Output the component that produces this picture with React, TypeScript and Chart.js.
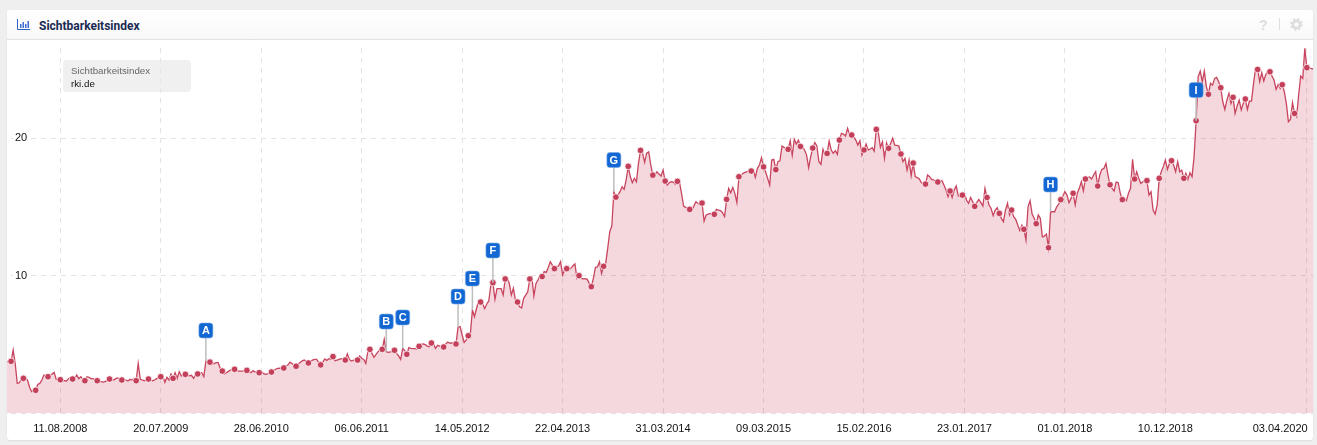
import React, { useEffect, useRef } from 'react'
import { Chart, registerables } from 'chart.js'

Chart.register(...registerables)

// weekly index values
const visibilityIndex = [
  3.73,3.78,3.76,4.58,3.6,2.16,2.2,2.45,2.52,2.55,
  2.4,1.87,1.55,1.62,1.65,2.08,2.15,2.4,2.76,2.7,
  2.64,2.78,2.83,2.95,2.45,2.4,2.42,2.33,2.35,2.33,
  2.5,2.6,2.47,2.5,2.76,2.5,2.64,2.45,2.35,2.64,
  2.6,2.5,2.5,2.4,2.35,2.3,2.28,2.25,2.3,2.35,
  2.47,2.45,2.4,2.5,2.55,2.45,2.4,2.45,2.4,2.33,
  2.45,2.4,2.52,2.35,3.6,2.45,2.4,2.35,2.4,2.47,
  2.4,2.35,2.4,2.5,2.6,2.64,2.7,2.23,2.6,2.4,
  2.84,2.52,2.93,2.52,3.0,2.7,2.76,2.81,2.76,2.7,
  2.74,2.52,2.76,2.84,2.93,2.93,2.64,3.76,3.73,3.7,
  3.56,3.6,3.66,3.66,3.25,3.05,2.84,2.93,3.03,3.13,
  3.18,3.18,3.08,3.05,3.05,3.05,3.08,3.1,3.05,2.93,
  3.08,2.98,3.03,2.93,3.03,2.88,2.81,2.84,2.93,2.98,
  3.08,3.18,3.25,3.27,3.25,3.27,3.42,3.49,3.7,3.6,
  3.47,3.4,3.56,3.68,3.8,3.85,3.76,3.64,3.76,3.85,
  3.9,3.9,3.7,3.5,3.7,3.93,3.83,3.95,3.9,4.1,
  3.8,3.85,3.9,3.95,3.9,3.85,4.29,3.9,3.78,3.85,
  3.85,3.85,4.15,3.98,3.9,3.61,4.46,4.63,4.34,4.05,
  4.27,4.46,4.58,4.63,5.36,4.46,4.41,4.44,4.48,4.56,
  4.34,4.15,3.9,4.7,4.53,4.27,4.75,4.7,4.68,4.68,
  4.65,4.85,5.0,5.02,4.97,4.87,4.82,5.09,5.02,4.7,
  4.92,4.87,4.82,4.8,5.02,5.16,5.07,5.11,5.02,5.02,
  6.23,6.28,5.67,5.14,5.31,5.62,5.75,7.49,7.0,7.6,
  8.15,8.07,7.93,7.59,7.93,8.15,9.31,9.48,8.27,9.04,
  9.04,9.04,8.58,9.75,9.79,9.43,8.58,9.07,8.22,8.07,
  7.73,7.64,8.34,8.58,8.82,9.75,9.87,8.51,9.43,9.67,
  10.04,9.92,10.28,10.23,10.59,11.0,10.76,10.5,10.64,10.69,
  11.0,10.04,10.4,10.5,10.4,10.52,10.69,10.84,9.79,9.99,
  9.79,9.75,9.77,9.72,9.43,9.19,9.79,10.59,10.64,11.0,
  10.16,10.67,10.88,11.98,13.2,13.6,16.1,15.7,15.85,16.1,
  16.45,16.27,16.95,17.94,17.2,16.75,17.07,16.82,18.16,19.1,
  18.9,18.23,18.9,19.0,18.04,17.3,17.3,17.55,17.38,17.24,
  17.67,16.87,16.58,16.75,16.82,16.8,16.63,16.85,16.8,15.98,
  15.05,14.96,14.88,14.81,14.76,15.05,15.37,15.25,15.13,15.27,
  13.96,14.4,14.47,14.52,14.4,14.45,14.81,14.76,14.72,14.57,
  14.28,15.54,16.34,16.02,16.41,15.98,15.3,17.19,17.3,17.43,
  17.5,17.55,17.6,17.6,17.67,17.14,17.8,18.04,18.57,17.9,
  17.55,17.07,16.58,18.4,18.45,17.7,18.28,18.35,19.42,19.32,
  19.25,19.18,19.8,18.76,19.9,19.56,19.85,19.39,19.37,19.13,
  18.76,17.84,18.64,19.27,19.68,19.42,18.28,18.08,19.18,18.76,
  18.88,19.78,19.13,18.88,19.08,18.81,19.85,20.34,20.29,20.15,
  20.7,20.22,20.22,20.1,19.85,19.49,19.8,18.76,19.13,19.56,
  19.13,19.2,19.3,19.05,20.63,20.39,19.32,19.73,18.52,19.64,
  19.25,19.61,19.98,19.49,19.47,19.42,18.84,18.28,18.52,17.67,
  18.4,17.26,18.18,17.19,17.12,17.02,16.75,16.68,16.65,17.31,
  17.19,16.99,16.95,16.82,16.8,16.85,16.9,16.58,16.22,15.73,
  16.15,15.68,16.22,16.51,15.78,15.73,15.85,15.98,15.49,15.25,
  15.68,15.37,15.03,15.3,15.54,15.3,15.05,16.34,15.68,15.13,
  14.88,14.35,14.76,14.93,14.52,14.16,13.92,14.76,15.25,14.4,
  14.76,14.28,14.08,13.67,13.26,13.67,13.36,12.58,15.0,15.44,
  14.47,14.16,13.77,14.4,14.16,12.82,12.87,13.02,12.02,14.64,
  14.64,14.64,15.0,15.2,15.52,15.78,16.1,15.85,15.3,15.61,
  15.98,15.13,15.98,16.34,16.82,16.15,17.02,17.12,17.16,17.02,
  17.31,17.55,16.51,17.31,17.72,17.79,18.16,17.31,16.6,16.34,
  16.15,16.8,16.75,15.98,15.52,15.61,15.44,15.98,16.34,18.45,
  17.02,17.55,17.07,16.7,16.82,16.9,16.9,15.85,16.1,14.76,
  14.47,15.13,17.07,17.55,17.92,18.4,17.72,18.16,18.35,18.04,
  17.55,18.28,17.55,17.67,17.07,17.43,16.99,17.48,17.19,18.64,
  21.26,24.46,24.87,24.1,24.87,23.73,23.18,23.98,23.85,24.34,
  24.41,24.1,23.66,22.64,22.08,22.76,23.25,22.52,22.96,21.79,
  22.33,22.76,22.04,22.52,22.84,22.08,22.69,22.69,23.98,25.07,
  24.99,24.1,24.75,24.15,24.63,24.82,24.82,24.51,24.22,23.54,
  23.9,23.61,23.88,23.37,22.52,21.19,21.36,22.57,21.79,21.55,
  23.13,24.51,24.34,26.52,25.12,25.07,25.07,25.02,
]

const yTicks = [0, 10, 20]
const tickWeeks = [26, 75, 124, 173, 222, 271, 320, 369, 418, 467, 516, 565, 621, 634]
const tickLabels = [
  '11.08.2008', '20.07.2009', '28.06.2010', '06.06.2011', '14.05.2012', '22.04.2013', '31.03.2014',
  '09.03.2015', '15.02.2016', '23.01.2017', '01.01.2018', '10.12.2018', '03.04.2020', '',
]
// the last date label is pushed left of its grid line, so it gets no line of its own
const labelOnlyWeek = 621

const flagLetters = ['A', 'B', 'C', 'D', 'E', 'F', 'G', 'H', 'I']
const flagWeeks = [97, 185, 193, 220, 227, 237, 296, 509, 580]
const flagLevels = [6.0, 6.65, 6.95, 8.47, 9.78, 11.82, 18.4, 16.62, 23.49]

const LINE = '#c8455f'
const GRID = '#e3e3e3'
const FONT = '"Liberation Sans", Arial, sans-serif'

// a dot every 6 weeks, the phase drifts a little along the axis
const hasDot = (i: number) => {
  if (i < 60) return i % 6 === 2
  if (i < 396) return i % 6 === 3
  return i % 6 === 4
}

const flagsPlugin = {
  id: 'flags',
  afterDatasetsDraw(chart: any) {
    const { ctx, scales } = chart
    flagLetters.forEach((letter, n) => {
      const week = flagWeeks[n]
      const x = scales.x.getPixelForValue(week)
      const yBox = scales.y.getPixelForValue(flagLevels[n])
      const yEnd = scales.y.getPixelForValue(visibilityIndex[week])
      ctx.save()
      ctx.strokeStyle = '#bdbdbd'
      ctx.lineWidth = 1.5
      ctx.beginPath()
      ctx.moveTo(x, yBox)
      ctx.lineTo(x, yEnd)
      ctx.stroke()
      ctx.beginPath()
      ctx.roundRect(x - 7, yBox - 7.5, 14, 15, 3)
      ctx.fillStyle = '#1367d3'
      ctx.fill()
      ctx.strokeStyle = 'rgba(120,170,230,0.6)'
      ctx.lineWidth = 1
      ctx.stroke()
      ctx.fillStyle = '#ffffff'
      ctx.font = `bold 11px ${FONT}`
      ctx.textAlign = 'center'
      ctx.textBaseline = 'middle'
      ctx.fillText(letter, x, yBox + 0.5)
      ctx.restore()
    })
  },
}

const App = () => {
  const chartRef = useRef<HTMLCanvasElement>(null)

  useEffect(() => {
    if (!chartRef.current) return
    const ctx = chartRef.current.getContext('2d')
    if (!ctx) return

    const chart = new Chart(ctx, {
      type: 'line',
      data: {
        labels: visibilityIndex.map((_, i) => i),
        datasets: [{
          label: 'rki.de',
          data: visibilityIndex.map((v, i) => ({ x: i, y: v })),
          borderColor: LINE,
          borderWidth: 1.3,
          backgroundColor: 'rgba(198,58,85,0.2)',
          fill: 'origin',
          tension: 0,
          pointRadius: (c: any) => (hasDot(c.dataIndex) ? 3.3 : 0),
          pointBackgroundColor: '#c43f5a',
          pointBorderColor: 'rgba(255,255,255,0.75)',
          pointBorderWidth: 1,
        }],
      },
      options: {
        animation: false,
        responsive: false,
        layout: { padding: { top: 8, left: 0, right: 0, bottom: 0 } },
        plugins: { legend: { display: false }, tooltip: { enabled: false } },
        scales: {
          x: {
            type: 'linear',
            min: 0,
            max: visibilityIndex.length - 1,
            afterBuildTicks: (axis: any) => {
              axis.ticks = tickWeeks.map((value) => ({ value }))
            },
            afterFit: (axis: any) => {
              axis.height = 27
              axis.paddingLeft = 0
              axis.paddingRight = 0
            },
            border: { display: false, dash: [5, 5] },
            grid: {
              drawTicks: false,
              color: (c: any) => (c.tick && c.tick.value === labelOnlyWeek ? 'rgba(0,0,0,0)' : GRID),
              lineWidth: 1,
            },
            ticks: {
              autoSkip: false,
              maxRotation: 0,
              color: '#111111',
              padding: 9,
              font: { family: FONT, size: 11 },
              callback: (v: any) => {
                const n = tickWeeks.indexOf(v)
                return n >= 0 ? tickLabels[n] : ''
              },
            },
          },
          y: {
            min: 0,
            max: 26.55,
            afterBuildTicks: (axis: any) => {
              axis.ticks = yTicks.map((value) => ({ value }))
            },
            afterFit: (axis: any) => {
              axis.width = 0
              axis.paddingTop = 0
              axis.paddingBottom = 0
            },
            border: { display: false, dash: [5, 5], dashOffset: 6 },
            grid: { drawTicks: false, color: GRID, lineWidth: 1 },
            ticks: {
              mirror: true,
              padding: 8,
              color: '#111111',
              font: { family: FONT, size: 11 },
              showLabelBackdrop: (c: any) => c.tick.value !== 0,
              backdropColor: '#ffffff',
              backdropPadding: 2,
              callback: (v: any) => (v === 0 ? '' : v),
            },
          },
        },
      },
      plugins: [flagsPlugin],
    } as any)

    return () => {
      chart.destroy()
    }
  }, [])

  return (
    <div style={{ position: 'absolute', left: 0, top: 0, width: 1317, height: 445, background: '#efefef', overflow: 'hidden', fontFamily: FONT }}>
      <div style={{ position: 'absolute', left: 7, top: 10, width: 1306, height: 430, background: '#fff', borderRadius: 3, boxShadow: '0 1px 2px rgba(0,0,0,0.08)' }} />
      <div style={{ position: 'absolute', left: 7, top: 10, width: 1306, height: 29, background: 'linear-gradient(#ffffff,#f8f8f8)', borderBottom: '1px solid #e2e2e2', borderRadius: '3px 3px 0 0' }} />
      <svg style={{ position: 'absolute', left: 17, top: 19 }} width="13" height="11" viewBox="0 0 13 11">
        <path d="M0.5 0V10.5H13" fill="none" stroke="#2a62c8" strokeWidth="1" />
        <path d="M3 5h1.5v4H3zM5.5 3H7v6H5.5zM8 5h1.5v4H8zM10.5 2H12v7h-1.5z" fill="#3f6fd0" />
      </svg>
      <div style={{ position: 'absolute', left: 39, top: 18, fontFamily: 'Roboto, sans-serif', fontWeight: 700, fontSize: 12, lineHeight: '16px', color: '#1b2a52' }}>
        Sichtbarkeitsindex
      </div>
      <div style={{ position: 'absolute', left: 1259, top: 17, fontWeight: 700, fontSize: 14, lineHeight: '16px', color: '#dddddd' }}>?</div>
      <div style={{ position: 'absolute', left: 1279, top: 18, width: 1, height: 12, background: '#dddddd' }} />
      <svg style={{ position: 'absolute', left: 1290, top: 18 }} width="13" height="13" viewBox="0 0 13 13">
        <circle cx="6.5" cy="6.5" r="3.6" fill="none" stroke="#dddddd" strokeWidth="2.6" />
        <circle cx="6.5" cy="6.5" r="5.6" fill="none" stroke="#dddddd" strokeWidth="1.6" strokeDasharray="2.2 2.2" />
      </svg>
      <div style={{ position: 'absolute', left: 7, top: 40, width: 1306, height: 400 }}>
        <canvas ref={chartRef} width={1306} height={400} style={{ display: 'block' }} />
      </div>
      <div style={{ position: 'absolute', left: 63, top: 60, width: 128, height: 32, background: 'rgba(232,232,232,0.65)', borderRadius: 4 }}>
        <div style={{ position: 'absolute', left: 8, top: 4, fontSize: 9.75, lineHeight: '13px', color: '#666666', whiteSpace: 'nowrap' }}>Sichtbarkeitsindex</div>
        <div style={{ position: 'absolute', left: 8, top: 17, fontSize: 9.75, lineHeight: '13px', color: '#111111' }}>rki.de</div>
      </div>
    </div>
  )
}

export default App
